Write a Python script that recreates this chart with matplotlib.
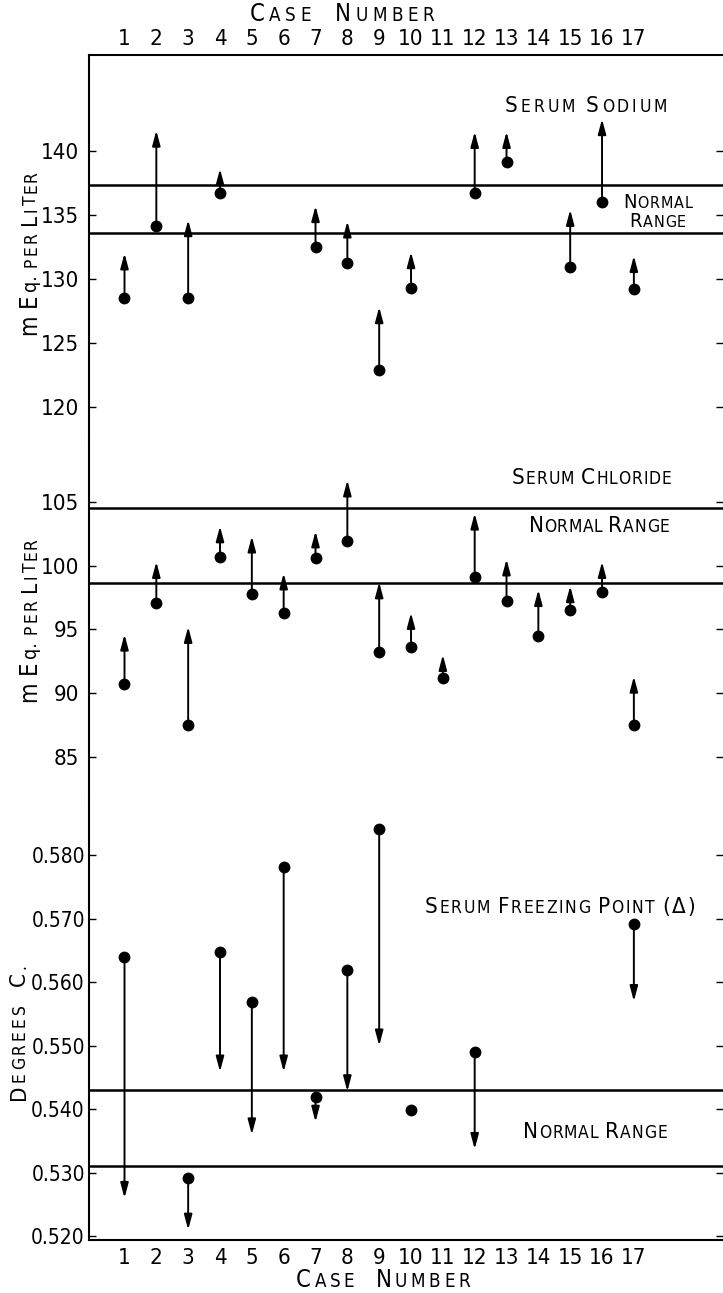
import numpy as np
import matplotlib
matplotlib.use("Agg")
import matplotlib.pyplot as plt
from matplotlib.transforms import IdentityTransform

plt.rcParams["font.family"] = ["DejaVu Sans"]
plt.rcParams["font.stretch"] = "condensed"

nan = np.nan
cases = np.arange(1, 18)

# serum sodium, mEq per liter (dot = before, arrow tip = after)
sodium_before = [128.5, 134.1, 128.5, 136.7, nan, nan, 132.5, 131.2, 122.9,
                 129.3, nan, 136.7, 139.1, nan, 130.9, 136.0, 129.2]
sodium_after = [132.0, 141.6, 134.6, 138.6, nan, nan, 135.7, 134.5, 127.8,
                132.1, nan, 141.5, 141.5, nan, 135.4, 142.5, 131.8]
sodium_normal = [133.6, 137.3]
sodium_ticks = [120, 125, 130, 135, 140]

# serum chloride
chloride_before = [90.7, 97.1, 87.5, 100.7, 97.8, 96.3, 100.6, 101.9, 93.2,
                   93.6, 91.2, 99.1, 97.2, 94.5, 96.5, 97.9, 87.5]
chloride_after = [94.6, 100.3, 95.2, 103.1, 102.3, 99.4, 102.7, 106.7, 98.7,
                  96.3, 93.0, 104.1, 100.5, 98.1, 98.4, 100.3, 91.3]
chloride_normal = [98.6, 104.5]
chloride_ticks = [85, 90, 95, 100, 105]

# serum freezing point depression, degrees C
freezing_before = [0.5639, nan, 0.5291, 0.5648, 0.5569, 0.5781, 0.5419, 0.5620,
                   0.5842, 0.5398, nan, 0.5490, nan, nan, nan, nan, 0.5692]
freezing_after = [0.5260, nan, 0.5210, 0.5459, 0.5360, 0.5459, 0.5380, 0.5428,
                  0.5500, nan, nan, 0.5337, nan, nan, nan, nan, 0.5570]
freezing_normal = [0.531, 0.543]
freezing_ticks = [0.520, 0.530, 0.540, 0.550, 0.560, 0.570, 0.580]

W, H = 723, 1293
fig = plt.figure(figsize=(W / 100, H / 100), dpi=100)
fig.patch.set_facecolor("white")


def frac(px_top, px_bot):
    return 1 - px_bot / H, (px_bot - px_top) / H


left = 89 / W
b1, h1 = frac(55, 440)
b2, h2 = frac(440, 800)
b3, h3 = frac(800, 1240)
ax1 = fig.add_axes([left, b1, 1 - left, h1])
ax2 = fig.add_axes([left, b2, 1 - left, h2])
ax3 = fig.add_axes([left, b3, 1 - left, h3])

xlim = (-0.115, 19.8)
panels = [
    (ax1, sodium_before, sodium_after, sodium_normal, sodium_ticks, (117.4, 147.5), "%d", 16, 7),
    (ax2, chloride_before, chloride_after, chloride_normal, chloride_ticks, (81.6, 109.86), "%d", 16, 7),
    (ax3, freezing_before, freezing_after, freezing_normal, freezing_ticks, (0.5194, 0.5887), "%.3f", 15, 3),
]

for ax, before, after, normal, ticks, ylim, fmt, fs, pad in panels:
    ax.set_xlim(*xlim)
    ax.set_ylim(*ylim)
    for v in normal:
        ax.axhline(v, color="k", lw=1.8, zorder=1)
    for x, b, a in zip(cases, before, after):
        if np.isnan(b) or np.isnan(a):
            continue
        ax.annotate("", xy=(x, a), xytext=(x, b),
                    arrowprops=dict(arrowstyle="-|>,head_length=0.75,head_width=0.2",
                                    color="k", lw=1.4, shrinkA=0, shrinkB=0,
                                    mutation_scale=12), zorder=2)
    ax.plot(cases, before, "o", ms=7.5, color="k", zorder=3)
    ax.set_yticks(ticks)
    ax.set_yticklabels([fmt % t for t in ticks], fontsize=fs)
    ax.tick_params(axis="y", left=True, right=True, direction="in",
                   length=5, width=1.0, pad=pad)
    for s in ("top", "bottom", "right"):
        ax.spines[s].set_visible(False)
    ax.spines["left"].set_linewidth(1.5)
    ax.set_xticks([])

ax1.spines["top"].set_visible(True)
ax1.spines["top"].set_linewidth(1.5)
ax3.spines["bottom"].set_visible(True)
ax3.spines["bottom"].set_linewidth(1.5)
for ax, top in ((ax1, True), (ax3, False)):
    ax.set_xticks(cases)
    ax.set_xticklabels([str(c) for c in cases], fontsize=16)
    ax.tick_params(axis="x", length=0, pad=4 if top else 6, top=top, labeltop=top,
                   bottom=not top, labelbottom=not top)

renderer = fig.canvas.get_renderer()


def pieces_of(s, big, small, track=False):
    # uppercase letters drawn large, lowercase drawn as small capitals
    out = []
    for ch in s:
        size = big if ch.isupper() or ch in "(Δ)" else small
        txt = ch.upper()
        if out and out[-1][1] == size and not track:
            out[-1][0] += txt
        else:
            out.append([txt, size])
    return out


def width_of(s, size):
    if s.strip() == "":
        return 0.28 * size * 100 / 72 * len(s)
    t = fig.text(0, 0, s, fontsize=size)
    w = t.get_window_extent(renderer).width
    t.remove()
    return w


def caps(px, py, pieces, rot=0, gap=0.8):
    # px, py: display pixels of the baseline centre
    widths = [width_of(s, sz) for s, sz in pieces]
    total = sum(widths) + gap * (len(pieces) - 1)
    d = np.array([1.0, 0.0]) if rot == 0 else np.array([0.0, 1.0])
    pos = np.array([px, py]) - d * total / 2
    for (s, sz), w in zip(pieces, widths):
        if s.strip():
            fig.text(pos[0], pos[1], s, fontsize=sz, transform=IdentityTransform(),
                     ha="left", va="baseline", rotation=rot, rotation_mode="anchor")
        pos = pos + d * (w + gap)


def data_px(ax, x, y):
    return ax.transData.transform((x, y))


BIG, SMALL = 16, 12.5
caps(*data_px(ax1, 15.5, 143.05), pieces_of("Serum Sodium", BIG, SMALL, True), gap=3.0)
caps(*data_px(ax1, 17.75, 135.55), pieces_of("Normal", 14.5, 11.5, True), gap=0.8)
caps(*data_px(ax1, 17.75, 134.06), pieces_of("Range", 14.5, 11.5, True), gap=0.8)
caps(*data_px(ax2, 15.68, 106.4), pieces_of("Serum Chloride", BIG, SMALL, True), gap=1.0)
caps(*data_px(ax2, 15.9, 102.65), pieces_of("Normal Range", BIG, SMALL, True), gap=0.6)
caps(*data_px(ax3, 14.68, 0.5709), pieces_of("Serum Freezing Point (Δ)", BIG, SMALL, True), gap=1.6)
caps(*data_px(ax3, 15.78, 0.5354), pieces_of("Normal Range", BIG, SMALL, True), gap=0.9)

caps(342, H - 21, pieces_of("Case  Number", 17, 13.5, True), gap=4.5)
caps(383, H - 1287, pieces_of("Case  Number", 17, 13.5, True), gap=3.5)

meq = [["m", 17], [" ", 10], ["E", 17], ["q.", 14], [" ", 10],
       ["P", 12.5], ["E", 12.5], ["R", 12.5], [" ", 10], ["L", 16],
       ["I", 12.5], ["T", 12.5], ["E", 12.5], ["R", 12.5]]
caps(36, H - 253, meq, rot=90, gap=2.0)
caps(36, H - 620, meq, rot=90, gap=2.0)
caps(25, H - 1032, pieces_of("Degrees  C.", 16, 12.5, True), rot=90, gap=3.0)

fig.savefig("out.png", dpi=100, facecolor="white")
